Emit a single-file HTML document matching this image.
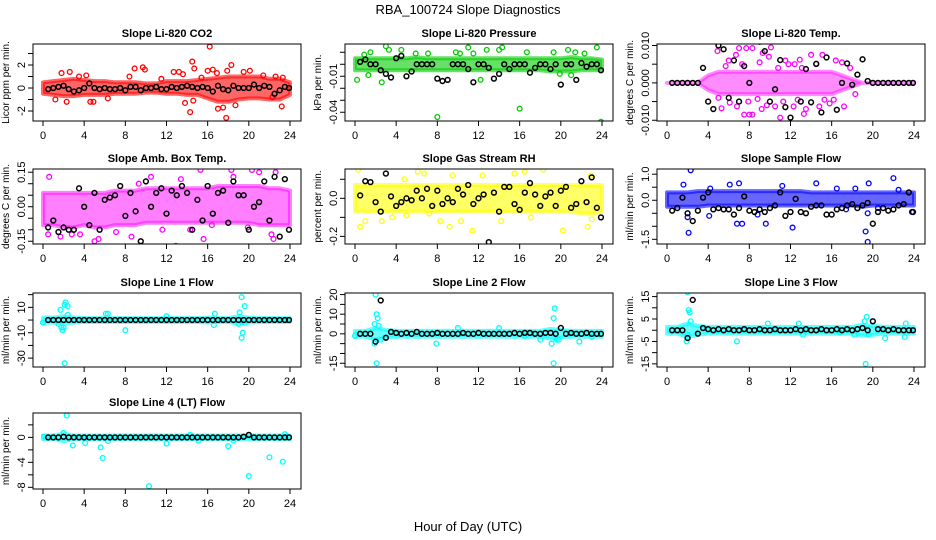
<!DOCTYPE html>
<html><head><meta charset="utf-8"><style>
html,body{margin:0;padding:0;background:#fff;}
svg{display:block;font-family:"Liberation Sans",Arial,sans-serif;}
</style></head><body>
<svg id="chart" width="936" height="540" viewBox="0 0 936 540">
<text x="468" y="14" text-anchor="middle" font-size="13">RBA_100724  Slope Diagnostics</text>
<text x="468" y="531" text-anchor="middle" font-size="13">Hour of Day (UTC)</text>
</svg>
<script>
const xTicks=[0,4,8,12,16,20,24];
const bandHours=[0,1,2,3,4,5,6,7,8,9,10,11,12,13,14,15,16,17,18,19,20,21,22,23,24];
const blackHours=[0.5,1,1.5,2,2.5,3,3.5,4,4.5,5,5.5,6,6.5,7,7.5,8,8.5,9,9.5,10,10.5,11,11.5,12,12.5,13,13.5,14,14.5,15,15.5,16,16.5,17,17.5,18,18.5,19,19.5,20,20.5,21,21.5,22,22.5,23,23.5,23.9];

const co2Black=[-0.1,0,0.1,0.2,-0.1,-0.3,-0.2,0,0.4,0,-0.1,0,-0.1,-0.1,0,-0.2,0.1,0.1,-0.2,0,0,0.1,-0.1,-0.1,0.1,0,0.1,0.2,0.1,0,0.1,0,-0.3,0.2,-0.1,-0.2,0.2,0,0,0,0.3,0,0.2,0.1,-0.5,-0.2,0.1,0];
const co2Lo=[-0.5,-0.6,-0.7,-0.7,-0.6,-0.6,-0.6,-0.5,-0.5,-0.5,-0.4,-0.4,-0.5,-0.5,-0.6,-0.6,-0.9,-1.2,-1.2,-1.0,-0.9,-0.9,-1.0,-1.0,-0.6];
const co2Hi=[0.5,0.6,0.7,0.8,0.7,0.6,0.6,0.5,0.5,0.5,0.4,0.4,0.6,0.6,0.6,0.7,0.8,0.9,1.0,1.0,1.0,1.0,0.8,0.8,0.5];
const co2Out=[[1.8,1.3],[2.6,1.4],[2.3,-1.2],[3.5,1.0],[4.2,1.1],[1.2,-1.0],[6.3,-0.9],[4.6,-1.2],[4.9,-1.2],[8.9,1.7],[9.7,1.8],[9.9,1.6],[8.4,1.0],[12.7,1.4],[13.2,1.4],[13.6,1.2],[14.5,2.3],[14.7,1.7],[14.3,-2.1],[13.8,-1.3],[14.6,-1.1],[16.2,3.6],[16.0,1.5],[16.5,1.6],[16.9,1.3],[17.5,-1.7],[17.8,-2.6],[17.0,-1.8],[18.3,2.0],[17.9,1.5],[18.7,-1.5],[19.5,1.4],[20.1,1.5],[21.4,1.1],[22.3,-0.8],[23.2,-1.6],[23.3,0.9],[22.6,1.0],[15.4,0.9],[11.5,0.8]];

const presBlack=[0.002,0.004,0.0,0,-0.005,-0.008,-0.011,0.005,0.007,-0.01,-0.006,0,0,0,0,-0.012,-0.014,-0.013,0,0,0,-0.004,-0.015,0,0,-0.003,-0.012,-0.008,0,-0.004,0,0,0,-0.007,-0.003,0,0,-0.004,0,-0.017,0,0,-0.013,0.001,-0.002,0,0,-0.005];
const presLo=[-0.005,-0.005,-0.005,-0.005,-0.005,-0.005,-0.005,-0.005,-0.005,-0.005,-0.005,-0.005,-0.005,-0.005,-0.005,-0.005,-0.005,-0.005,-0.005,-0.006,-0.006,-0.006,-0.005,-0.005,-0.005];
const presHi=[0.005,0.005,0.005,0.005,0.005,0.005,0.006,0.005,0.005,0.005,0.005,0.005,0.005,0.005,0.005,0.005,0.005,0.005,0.005,0.005,0.005,0.006,0.005,0.005,0.004];
const presOut=[[0.2,-0.013],[0.9,0.008],[1.5,0.01],[1.3,-0.009],[2.6,-0.015],[3.0,0.015],[3.3,0.012],[4.5,0.012],[7.1,0.009],[8.0,-0.044],[9.8,0.01],[10.2,0.009],[11.0,0.014],[11.5,0.009],[12.2,-0.013],[12.8,0.012],[14.0,0.012],[14.3,0.014],[16.0,-0.037],[16.7,0.01],[19.3,0.01],[19.9,-0.008],[20.7,0.012],[21.4,0.01],[22.3,0.009],[23.5,0.014],[23.9,-0.048],[21.0,-0.009],[5.9,0.009]];

const tempBlack=[0,0,0,0,0,0,0.004,-0.005,-0.007,0.01,0.009,-0.004,0.006,-0.005,0.0045,0,0.013,0.011,0.0085,-0.005,-0.0017,0.0061,-0.0065,-0.0093,0.0142,-0.005,0.0037,-0.0052,0.0051,-0.0079,0.0068,0.0142,-0.0072,0.0,0.0052,-0.0005,0.0022,0.0063,0.0005,0,0,0,0,0,0,0,0,0];
const tempLo=[0,0,0,0,-0.002,-0.003,-0.003,-0.003,-0.003,-0.003,-0.003,-0.003,-0.003,-0.003,-0.003,-0.003,-0.003,-0.002,-0.001,0,0,0,0,0,0];
const tempHi=[0,0,0,0,0.002,0.003,0.003,0.003,0.003,0.003,0.003,0.003,0.003,0.003,0.003,0.003,0.003,0.002,0.001,0,0,0,0,0,0];
const tempOut=[[4.9,0.0085],[6.7,0.0075],[7.0,0.0093],[7.7,0.0093],[8.3,0.0093],[9.3,0.008],[10.1,0.0095],[9.9,0.007],[11.5,0.006],[12.4,0.005],[13.1,0.004],[14.0,0.0075],[15.1,0.0075],[16.4,0.006],[17.0,0.0055],[7.5,-0.0085],[8.0,-0.0085],[8.3,-0.0085],[11.0,-0.0093],[9.7,-0.006],[10.5,-0.0063],[5.3,-0.0068],[6.1,-0.0053],[6.8,-0.0063],[12.3,-0.0063],[13.5,-0.007],[13.3,-0.0083],[14.8,-0.0063],[15.8,-0.0055],[17.2,-0.0063],[5.7,0.0045],[8.8,-0.0043],[11.8,0.005],[16.2,-0.0045],[6.0,0.006],[7.3,0.005],[9.0,0.0055],[10.8,0.004],[12.9,0.0062],[14.5,0.005],[5.0,-0.004],[7.9,-0.005],[9.2,-0.007],[11.3,-0.005],[12.7,-0.0045],[15.3,-0.0045],[17.8,0.004],[18.3,-0.003]];

const ambBlack=[-0.09,-0.06,-0.11,-0.09,-0.1,-0.1,0.08,0.0,-0.08,0.06,-0.1,0.03,0.04,0.05,0.09,-0.04,0.06,-0.02,-0.15,0.11,0.0,0.06,0.08,-0.03,0.07,0.05,0.09,0.06,-0.1,0.03,-0.06,0.09,-0.03,0.06,0.07,-0.07,0.11,0.05,0.05,-0.1,0.0,0.02,0.11,-0.06,0.13,-0.13,0.12,-0.1];
const ambLo=[-0.08,-0.08,-0.09,-0.09,-0.08,-0.09,-0.09,-0.08,-0.08,-0.08,-0.07,-0.07,-0.07,-0.07,-0.07,-0.07,-0.07,-0.07,-0.07,-0.07,-0.07,-0.08,-0.08,-0.08,-0.08];
const ambHi=[0.06,0.06,0.06,0.06,0.06,0.06,0.06,0.07,0.07,0.07,0.08,0.08,0.08,0.08,0.08,0.08,0.08,0.09,0.09,0.09,0.09,0.09,0.08,0.08,0.07];
const ambOut=[[0.6,0.13],[1.7,-0.13],[2.8,-0.12],[4.5,0.18],[5.0,-0.15],[5.4,-0.14],[8.6,-0.13],[9.3,0.1],[10.5,0.13],[12.9,-0.17],[13.4,0.12],[15.3,0.16],[15.6,-0.14],[16.4,-0.08],[18.3,0.16],[18.5,0.13],[19.9,-0.09],[20.3,0.16],[21.0,0.15],[22.2,-0.12],[22.4,-0.14],[22.6,0.15],[14.3,-0.1],[3.6,-0.12],[11.6,-0.1],[0.5,-0.12],[7.1,-0.11]];

const rhBlack=[0.015,0.09,0.085,-0.02,-0.07,0.13,0.01,-0.04,-0.02,0.0,-0.01,0.04,0.0,0.05,-0.04,0.04,-0.03,0.0,-0.02,0.05,0.02,0.07,-0.03,0.0,0.02,-0.23,0.03,-0.07,0.06,0.06,-0.03,-0.06,0.03,0.08,0.02,-0.04,0.01,0.03,-0.04,0.04,0.06,-0.05,-0.03,0.09,-0.02,0.11,-0.05,-0.1];
const rhLo=[-0.07,-0.07,-0.07,-0.07,-0.07,-0.07,-0.07,-0.07,-0.07,-0.07,-0.07,-0.07,-0.07,-0.07,-0.07,-0.07,-0.07,-0.07,-0.07,-0.07,-0.07,-0.07,-0.08,-0.08,-0.07];
const rhHi=[0.07,0.07,0.07,0.07,0.07,0.07,0.07,0.07,0.07,0.07,0.07,0.07,0.07,0.07,0.07,0.07,0.07,0.07,0.07,0.07,0.07,0.07,0.07,0.07,0.07];
const rhOut=[[0.3,0.15],[0.5,-0.15],[1.0,-0.12],[2.6,-0.12],[3.6,-0.1],[5.0,-0.09],[6.1,0.14],[6.7,0.13],[8.3,-0.12],[9.2,-0.15],[10.3,-0.12],[11.4,-0.17],[12.4,0.12],[15.5,0.13],[16.5,0.14],[18.3,0.15],[20.2,-0.17],[22.6,-0.15],[22.9,0.12],[23.0,-0.11],[7.2,-0.08],[14.2,-0.12],[17.1,-0.1],[4.8,0.1],[9.5,0.12]];

const flowBlack=[-0.4,-0.3,0.1,-0.5,-0.8,-0.4,0.1,0.3,-0.35,-0.3,-0.35,-0.35,-0.55,-0.3,0.15,-0.4,-0.45,-0.35,-0.45,-0.3,-0.2,0.3,-0.6,-0.45,0.05,-0.45,-0.5,-0.25,-0.2,-0.2,-0.55,-0.55,-0.35,-0.3,-0.2,-0.15,-0.3,-0.2,-0.1,-0.9,-0.45,-0.3,-0.4,-0.35,-0.2,-0.15,0.3,-0.45];
const flowLo=[-0.25,-0.25,-0.25,-0.25,-0.2,-0.2,-0.2,-0.2,-0.2,-0.2,-0.2,-0.2,-0.2,-0.2,-0.2,-0.2,-0.2,-0.2,-0.2,-0.25,-0.2,-0.2,-0.2,-0.2,-0.2];
const flowHi=[0.3,0.3,0.3,0.35,0.35,0.35,0.35,0.35,0.35,0.35,0.35,0.35,0.35,0.35,0.3,0.3,0.3,0.3,0.3,0.3,0.3,0.3,0.3,0.3,0.3];
const flowOut=[[2.3,1.15],[1.6,0.6],[2.0,-0.65],[2.1,-1.25],[4.1,-0.6],[4.2,0.45],[6.1,0.6],[7.0,0.65],[6.8,-0.9],[7.3,-0.9],[9.6,-0.9],[8.8,-0.55],[11.2,0.55],[12.2,-1.05],[14.5,0.65],[16.5,0.45],[17.4,-0.35],[18.3,0.45],[19.3,-1.2],[19.5,-1.6],[19.6,0.65],[19.5,-0.5],[22.0,0.85],[22.5,0.4],[23.8,-0.45],[20.5,-0.3]];

const l1Black=[0,0,0,0,0,0,0,0,0,0,0,0,0,0,0,0,0,0,0,0,0,0,0,0,0,0,0,0,0,0,0,0,0,0,0,0,0,0,0,0,0,0,0,0,0,0,0,0];
const l1Lo=[-2,-2,-3,-2,-1.5,-1.5,-1.5,-1.5,-1.5,-1.5,-1.5,-1.5,-1.5,-1.5,-1.5,-1.5,-2,-1.5,-1.5,-3,-2,-1.5,-1.5,-1.5,-1.5];
const l1Hi=[2,2,3,2,1.5,1.5,1.5,1.5,1.5,1.5,1.5,1.5,1.5,1.5,1.5,1.5,2,1.5,1.5,3,2,1.5,1.5,1.5,1.5];
const l1Out=[[1.7,8],[2.1,12],[2.2,14],[2.4,11],[1.8,-6],[1.9,-8],[2.0,-6],[1.5,-3],[2.1,-34],[2.4,4],[6.1,5],[6.3,5],[8.0,-8],[12.0,3],[16.7,5],[16.6,-4],[19.3,18],[19.6,11],[19.1,6],[19.4,-10],[19.3,-14],[19.0,-3],[19.6,-2],[0.0,-2]];

const l2Black=[0,0,0,-4,17,-2,1,0.5,0,0.5,0,1,0,0,0,0.5,0,0,0,0,0.5,0,0,0.5,0,0,0,0,0,0,0.5,0,0.5,0.5,0,0,0.5,0.5,0,3,0,0.5,0,0,0.5,0,0,0];
const l2Lo=[-1.5,-1.5,-3,-2,-1.5,-1.5,-1.5,-1.5,-1.5,-1.5,-1.5,-1.5,-1.5,-1.5,-1.5,-1.5,-1.5,-1.5,-1.5,-2.5,-2,-1.5,-1.5,-1.5,-1.5];
const l2Hi=[1.5,1.5,3,2,1.5,1.5,1.5,1.5,1.5,1.5,1.5,1.5,1.5,1.5,1.5,1.5,1.5,1.5,1.5,2.5,2,1.5,1.5,1.5,1.5];
const l2Out=[[0.0,-1],[1.9,5],[2.0,20],[2.1,10],[2.2,8],[2.3,4],[2.1,-15],[1.9,-5],[2.5,-3],[7.9,-5],[10.0,3],[14.0,3],[18.0,-3],[19.1,-5],[19.3,8],[19.4,13],[19.3,-15],[19.6,-3],[19.8,-3],[21.8,-4],[3.0,-2],[16.5,-1],[23.0,-1.5]];

const l3Black=[0,0,0,-3.5,13.5,-1.5,1,0.5,0,0.5,0,0.5,0,0,0.5,0,0,0.5,0,0,0.5,0,0,0,0.5,0,0.5,0,0,0.5,0,0,0.5,0,0.5,0,0.5,1,0,4,0.5,0.5,0,0.5,0,0,0,0];
const l3Lo=[-1.5,-1.5,-3,-2,-1.5,-1.5,-1.5,-1.5,-1.5,-1.5,-1.5,-1.5,-1.5,-1.5,-1.5,-1.5,-1.5,-1.5,-1.5,-2.5,-2,-1.5,-1.5,-1.5,-1.5];
const l3Hi=[1.5,1.5,3,2,1.5,1.5,1.5,1.5,1.5,1.5,1.5,1.5,1.5,1.5,1.5,1.5,1.5,1.5,1.5,2.5,2,1.5,1.5,1.5,1.5];
const l3Out=[[2.0,17],[2.1,9],[2.2,8],[2.3,4],[1.9,-5],[2.0,-2],[6.8,-5],[9.8,3],[12.8,3],[13.2,-2],[16.8,-1],[18.2,-2],[19.3,-15],[19.4,6],[19.2,4],[19.6,-2],[21.2,-3.5],[23.2,3],[23.1,-3],[0.5,0]];

const l4Black=[0,0,0,0.1,0,0,0,0,0,0,0,0,0,0,0,0,0,0,0,0,0,0,0,0,0,0,0,0,0,0,0,0,0,0,0,0,0,0,0.1,0.4,0,0,0,0,0,0,0,0];
const l4Lo=[-0.3,-0.3,-0.6,-0.3,-0.3,-0.3,-0.3,-0.3,-0.3,-0.3,-0.3,-0.3,-0.3,-0.3,-0.3,-0.3,-0.3,-0.3,-0.3,-0.3,-0.3,-0.3,-0.3,-0.3,-0.3];
const l4Hi=[0.3,0.3,0.6,0.3,0.3,0.3,0.3,0.3,0.3,0.3,0.3,0.3,0.3,0.3,0.3,0.3,0.3,0.3,0.3,0.3,0.3,0.3,0.3,0.3,0.3];
const l4Out=[[2.3,3.5],[2.0,0.7],[2.9,-1.3],[4.1,-0.9],[5.6,-1.6],[5.8,-3.3],[6.3,-0.6],[10.3,-7.8],[12.0,-1.0],[14.3,0.4],[15.1,-0.5],[18.0,-1.4],[18.5,-0.5],[20.0,-6.2],[22.0,-3.2],[23.3,-3.9],[23.5,0.5],[0.1,0.1]];

const panels=[
 {id:'co2',title:'Slope Li-820 CO2',yl:'Licor ppm per min.',col:0,row:0,ymin:-2.87,ymax:3.83,ticks:[-2,-1,0,1,2,3],labels:[[-2,'-2'],[0,'0'],[2,'2']],color:'#ff0000',op:0.6,black:co2Black,lo:co2Lo,hi:co2Hi,out:co2Out},
 {id:'pressure',title:'Slope Li-820 Pressure',yl:'kPa per min.',col:1,row:0,ymin:-0.0473,ymax:0.0169,ticks:[-0.04,-0.03,-0.02,-0.01,0,0.01],labels:[[-0.04,'-0.04'],[-0.01,'-0.01']],color:'#00cc00',op:0.6,black:presBlack,lo:presLo,hi:presHi,out:presOut},
 {id:'temp',title:'Slope Li-820 Temp.',yl:'degrees C per min.',col:2,row:0,ymin:-0.0102,ymax:0.0104,ticks:[-0.01,-0.005,0,0.005,0.01],labels:[[-0.01,'-0.010'],[0,'0.000'],[0.01,'0.010']],color:'#ff00ff',op:0.45,black:tempBlack,lo:tempLo,hi:tempHi,out:tempOut},
 {id:'ambbox',title:'Slope Amb. Box Temp.',yl:'degrees C per min.',col:0,row:1,ymin:-0.162,ymax:0.164,ticks:[-0.15,-0.1,-0.05,0,0.05,0.1,0.15],labels:[[-0.15,'-0.15'],[0,'0.00'],[0.15,'0.15']],color:'#ff00ff',op:0.5,black:ambBlack,lo:ambLo,hi:ambHi,out:ambOut},
 {id:'rh',title:'Slope Gas Stream RH',yl:'percent per min.',col:1,row:1,ymin:-0.24,ymax:0.154,ticks:[-0.2,-0.1,0,0.1],labels:[[-0.2,'-0.2'],[0,'0.0']],color:'#ffff00',op:0.6,black:rhBlack,lo:rhLo,hi:rhHi,out:rhOut},
 {id:'sampleflow',title:'Slope Sample Flow',yl:'ml/min per min.',col:2,row:1,ymin:-1.68,ymax:1.2,ticks:[-1.5,-1,-0.5,0,0.5,1],labels:[[-1.5,'-1.5'],[0,'0.0'],[1,'1.0']],color:'#0000ff',op:0.6,black:flowBlack,lo:flowLo,hi:flowHi,out:flowOut},
 {id:'line1',title:'Slope Line 1 Flow',yl:'ml/min per min.',col:0,row:2,ymin:-37,ymax:21.3,ticks:[-30,-20,-10,0,10,20],labels:[[-30,'-30'],[-10,'-10'],[10,'10']],color:'#00ffff',op:0.6,black:l1Black,lo:l1Lo,hi:l1Hi,out:l1Out},
 {id:'line2',title:'Slope Line 2 Flow',yl:'ml/min per min.',col:1,row:2,ymin:-16.9,ymax:20.8,ticks:[-15,-10,-5,0,5,10,15,20],labels:[[-15,'-15'],[0,'0'],[10,'10'],[20,'20']],color:'#00ffff',op:0.6,black:l2Black,lo:l2Lo,hi:l2Hi,out:l2Out},
 {id:'line3',title:'Slope Line 3 Flow',yl:'ml/min per min.',col:2,row:2,ymin:-16.4,ymax:16.6,ticks:[-15,-10,-5,0,5,10,15],labels:[[-15,'-15'],[-5,'-5'],[5,'5'],[15,'15']],color:'#00ffff',op:0.6,black:l3Black,lo:l3Lo,hi:l3Hi,out:l3Out},
 {id:'line4',title:'Slope Line 4 (LT) Flow',yl:'ml/min per min.',col:0,row:3,ymin:-8.27,ymax:3.9,ticks:[-8,-6,-4,-2,0,2],labels:[[-8,'-8'],[-4,'-4'],[0,'0']],color:'#00ffff',op:0.6,black:l4Black,lo:l4Lo,hi:l4Hi,out:l4Out}
];
const colLeft=[33,345,657], boxW=268;
const rowTop=[44,169,293,413], rowBot=[121,244,367,489];
const NS='http://www.w3.org/2000/svg';
const svg=document.getElementById('chart');
function mk(tag,attrs,parent){const e=document.createElementNS(NS,tag);for(const k in attrs)e.setAttribute(k,attrs[k]);(parent||svg).appendChild(e);return e;}

panels.forEach(p=>{
  const L=colLeft[p.col],T=rowTop[p.row],B=rowBot[p.row];
  const xs=h=>L+10+h*(247/24);
  const ys=v=>B-(v-p.ymin)/(p.ymax-p.ymin)*(B-T);
  const g=mk('g',{});
  
  
  const clipId='clip-'+p.id;
  const cp=mk('clipPath',{id:clipId},g);
  mk('rect',{x:L,y:T,width:boxW,height:B-T},cp);
  const t=mk('text',{x:L+134,y:T-7,'text-anchor':'middle','font-size':'11','font-weight':'bold'},g);
  t.textContent=p.title;
  
  
  const yt=mk('text',{x:0,y:0,'text-anchor':'middle','font-size':'10',transform:`translate(${L-24},${(T+B)/2}) rotate(-90)`},g);
  yt.textContent=p.yl;
  
  
  const plot=mk('g',{'clip-path':`url(#${clipId})`},g);
  
  
  let d='';
  bandHours.forEach((h,i)=>{d+=(i?'L':'M')+xs(h).toFixed(1)+','+ys(p.hi[i]).toFixed(1);});
  for(let i=bandHours.length-1;i>=0;i--)d+='L'+xs(bandHours[i]).toFixed(1)+','+ys(p.lo[i]).toFixed(1);
  d+='Z';
  const band=mk('path',{d:d,fill:p.color,'fill-opacity':p.op,stroke:p.color,'stroke-width':'4','stroke-opacity':p.op,'stroke-linejoin':'round'},plot);
  
  
  p.out.forEach(pt=>{
    const c=mk('circle',{cx:xs(pt[0]),cy:ys(pt[1]),r:2.4,fill:'none',stroke:p.color,'stroke-width':'1.3'},plot);
    
    
  });
  blackHours.forEach((h,i)=>{
    const c=mk('circle',{cx:xs(h),cy:ys(p.black[i]),r:2.4,fill:'none',stroke:'#000','stroke-width':'1.5'},plot);
    
    
  });
  const box=mk('rect',{x:L,y:T,width:boxW,height:B-T,fill:'none',stroke:'#000','stroke-width':'1'},g);
  
  
  xTicks.forEach(h=>{
    const x=xs(h);
    const tk=mk('line',{x1:x,x2:x,y1:B,y2:B+5,stroke:'#000'},g);
    
    
    const lb=mk('text',{x:x,y:B+18,'text-anchor':'middle','font-size':'11'},g);
    lb.textContent=String(h);
    
    
  });
  p.ticks.forEach(v=>{
    const y=ys(v);
    const tk=mk('line',{x1:L-5,x2:L,y1:y,y2:y,stroke:'#000'},g);
    
    
  });
  p.labels.forEach(lv=>{
    const y=ys(lv[0]);
    const lb=mk('text',{x:0,y:0,'text-anchor':'middle','font-size':'11',transform:`translate(${L-8},${y}) rotate(-90)`},g);
    lb.textContent=lv[1];
    
    
  });
});
</script>
</body></html>
